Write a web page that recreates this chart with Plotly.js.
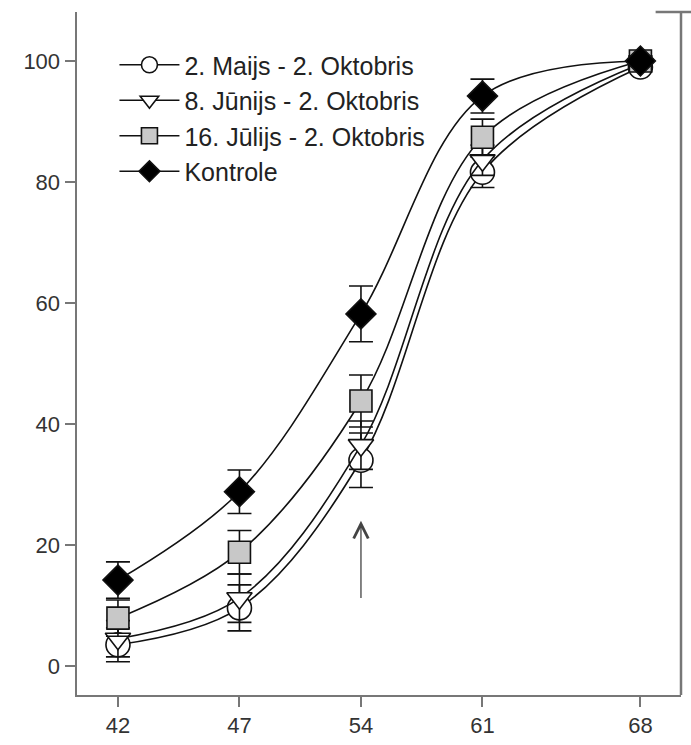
<!DOCTYPE html>
<html>
<head>
<meta charset="utf-8">
<script src="https://cdn.plot.ly/plotly-3.0.1.min.js"></script>
<style>html,body{margin:0;padding:0;background:#fff;}#chart{width:691px;height:745px;}</style>
</head>
<body>
<div id="chart"></div>
<script>
// Days (tick labels) and their slot on the drawn axis (the original axis is not linear)
const days = ['42', '47', '54', '61', '68'];
const daySlot = [0, 1, 2, 3, 4.3];

const seriesNames = ['2. Maijs - 2. Oktobris', '8. Jūnijs - 2. Oktobris', '16. Jūlijs - 2. Oktobris', 'Kontrole'];
const maijs   = [3.5, 9.6, 34.0, 81.6, 99.0];
const maijsErr = [2.8, 3.8, 4.5, 2.5, 0.8];
const junijs  = [4.5, 11.2, 36.5, 83.6, 99.5];
const junijsErr = [3.0, 4.0, 4.0, 2.5, 0.8];
const julijs  = [7.9, 18.8, 43.8, 87.4, 100.0];
const julijsErr = [3.0, 3.6, 4.3, 3.0, 0.8];
const kontrole = [14.2, 28.8, 58.2, 94.2, 100.0];
const kontroleErr = [3.0, 3.6, 4.6, 2.8, 0.8];

const arrowFrom = 11.0, arrowTo = 24.0; // arrow at day 54

function mk(name, y, err, symbol, size, fill) {
  return {
    x: daySlot, y: y, name: name, type: 'scatter', mode: 'lines+markers',
    line: {shape: 'spline', smoothing: 1.0, color: '#111', width: 1.6},
    marker: {symbol: symbol, size: size, color: fill, line: {color: '#111', width: 1.6}},
    error_y: {type: 'data', array: err, visible: true, color: '#111', thickness: 1.6, width: 12}
  };
}

const traces = [
  mk(seriesNames[0], maijs, maijsErr, 'circle', 24, '#ffffff'),
  mk(seriesNames[1], junijs, junijsErr, 'triangle-down', 22, '#ffffff'),
  mk(seriesNames[2], julijs, julijsErr, 'square', 22, '#c8c8c8'),
  mk(seriesNames[3], kontrole, kontroleErr, 'diamond', 23, '#000000')
];

const layout = {
  width: 691, height: 745,
  margin: {l: 77, r: 10, t: 12, b: 50},
  paper_bgcolor: '#fff', plot_bgcolor: '#fff',
  font: {family: 'Liberation Sans, Arial, sans-serif', color: '#333', size: 22},
  showlegend: true,
  legend: {x: 0.062, y: 0.956, xanchor: 'left', yanchor: 'top', bgcolor: 'rgba(0,0,0,0)',
           font: {size: 25, color: '#222'}, traceorder: 'normal', itemwidth: 60},
  xaxis: {
    range: [-0.337, 4.634], tickmode: 'array', tickvals: daySlot, ticktext: days,
    showgrid: false, zeroline: false, showline: true, linecolor: '#777', linewidth: 2,
    mirror: false, ticks: 'outside', ticklen: 10, tickwidth: 2, tickcolor: '#777',
    tickfont: {size: 22, color: '#333'}
  },
  yaxis: {
    range: [-4.8, 108.1], tickmode: 'array', tickvals: [0, 20, 40, 60, 80, 100],
    showgrid: false, zeroline: false, showline: true, linecolor: '#777', linewidth: 2.5,
    ticks: 'outside', ticklen: 10, tickwidth: 2, tickcolor: '#777',
    tickfont: {size: 22, color: '#333'}
  },
  shapes: [
    {type: 'line', xref: 'paper', yref: 'paper', x0: 1, x1: 1, y0: 0, y1: 1, line: {color: '#777', width: 2.5}},
    {type: 'line', xref: 'paper', yref: 'paper', x0: 0.958, x1: 1.02, y0: 1, y1: 1, line: {color: '#777', width: 2.5}}
  ],
  annotations: [
    {x: daySlot[2], y: arrowTo, ax: daySlot[2], ay: arrowFrom, xref: 'x', yref: 'y', axref: 'x', ayref: 'y',
     text: '', showarrow: true, arrowhead: 5, arrowsize: 2.2, arrowwidth: 1.3, arrowcolor: '#444'}
  ]
};

Plotly.newPlot('chart', traces, layout, {displayModeBar: false, staticPlot: true});
</script>
</body>
</html>
